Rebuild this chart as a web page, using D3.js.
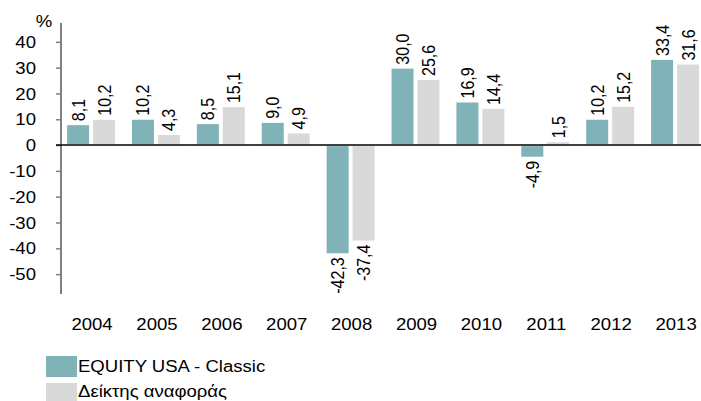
<!DOCTYPE html>
<html>
<head>
<meta charset="utf-8">
<script src="https://cdn.jsdelivr.net/npm/d3@7"></script>
<style>
  body { margin: 0; background: #fff; }
  text { font-family: "Liberation Sans", Arial, sans-serif; fill: #000; }
</style>
</head>
<body>
<div id="chart"></div>
<script>
// data
var years = ["2004", "2005", "2006", "2007", "2008", "2009", "2010", "2011", "2012", "2013"];
var fundValues = [8.1, 10.2, 8.5, 9.0, -42.3, 30.0, 16.9, -4.9, 10.2, 33.4];
var benchValues = [10.2, 4.3, 15.1, 4.9, -37.4, 25.6, 14.4, 1.5, 15.2, 31.6];
var seriesNames = ["EQUITY USA - Classic", "Δείκτης αναφοράς"];
var yTicks = [-50, -40, -30, -20, -10, 0, 10, 20, 30, 40];

var colors = ["#7fb3b8", "#d9d9d9"];
var stretch = 1.16; // the source picture is a bit wide

var svgWidth = 701, svgHeight = 401;
var axisX = 61;

// greek style numbers: comma decimal, plain hyphen minus
var locale = d3.formatLocale({
  decimal: ",",
  thousands: ".",
  grouping: [3],
  currency: ["", ""],
  minus: "-"
});
var fmt = locale.format(".1f");
var fmtTick = locale.format("d");

var svg = d3.select("#chart")
  .append("svg")
  .attr("width", svgWidth)
  .attr("height", svgHeight);

// scales
var x0 = d3.scaleBand()
  .domain(years)
  .range([58.6, 707.5]);

var x1 = d3.scaleBand()
  .domain([0, 1])
  .range([6.5, 58.4]);

var y = d3.scaleLinear()
  .domain([-57.7, 47.3])
  .range([294, 23]);

// rows for the bars
var rows = [];
years.forEach(function(yr, i) {
  rows.push({ year: yr, s: 0, v: fundValues[i] });
  rows.push({ year: yr, s: 1, v: benchValues[i] });
});

var barW = 24;

// bars
svg.append("g").selectAll("rect")
  .data(rows)
  .enter()
  .append("rect")
  .attr("x", d => x0(d.year) + x1(d.s) + x1.bandwidth() / 2 - barW / 2)
  .attr("y", d => Math.min(y(d.v), y(0)))
  .attr("width", barW)
  .attr("height", d => Math.abs(y(d.v) - y(0)))
  .attr("fill", d => colors[d.s])
  .attr("stroke", "#fff")
  .attr("stroke-width", 2);

// value labels (rotated)
svg.append("g").selectAll("text")
  .data(rows)
  .enter()
  .append("text")
  .attr("transform", function(d) {
    var cx = x0(d.year) + x1(d.s) + x1.bandwidth() / 2;
    var ty = d.v >= 0 ? y(d.v) - 3 : y(d.v) + 3;
    return `translate(${cx}, ${ty}) scale(${stretch}, 1) rotate(-90)`;
  })
  .attr("dy", "0.35em")
  .attr("text-anchor", d => d.v >= 0 ? "start" : "end")
  .attr("font-size", "16px")
  .text(d => fmt(d.v));

// y axis
var leftAxis = d3.axisLeft(y)
  .tickValues(yTicks)
  .tickSize(5)
  .tickPadding(20)
  .tickFormat(fmtTick);

var yAxis = svg.append("g")
  .attr("transform", `translate(${axisX}, 0)`)
  .call(leftAxis);

yAxis.select(".domain").remove();
yAxis.selectAll(".tick line")
  .attr("stroke", "#808080")
  .attr("stroke-width", 1.5);
yAxis.selectAll(".tick text")
  .attr("font-size", "16px")
  .attr("font-family", "Liberation Sans, Arial, sans-serif")
  .attr("fill", "#000")
  .attr("x", null)
  .attr("dy", null)
  .attr("transform", `translate(-25, 0) scale(${stretch}, 1)`)
  .attr("dominant-baseline", "central");

svg.append("line")
  .attr("x1", axisX).attr("x2", axisX)
  .attr("y1", y(47.3)).attr("y2", y(-57.7))
  .attr("stroke", "#808080")
  .attr("stroke-width", 2);

// zero line
svg.append("line")
  .attr("x1", axisX - 5).attr("x2", svgWidth)
  .attr("y1", y(0)).attr("y2", y(0))
  .attr("stroke", "#000")
  .attr("stroke-width", 1.5);

// unit
svg.append("text")
  .attr("transform", `translate(${axisX - 17}, 27) scale(${stretch}, 1)`)
  .attr("text-anchor", "middle")
  .attr("font-size", "16px")
  .text("%");

// year labels
svg.append("g").selectAll("text")
  .data(years)
  .enter()
  .append("text")
  .attr("transform", d => `translate(${x0(d) + x0.bandwidth() / 2 + 1}, 330) scale(${stretch}, 1)`)
  .attr("text-anchor", "middle")
  .attr("font-size", "16px")
  .text(d => d);

// legend
var legend = svg.append("g");

legend.selectAll("rect")
  .data(seriesNames)
  .enter()
  .append("rect")
  .attr("x", 46)
  .attr("y", (d, i) => 356 + i * 27)
  .attr("width", 31)
  .attr("height", 21)
  .attr("fill", (d, i) => colors[i]);

legend.selectAll("text")
  .data(seriesNames)
  .enter()
  .append("text")
  .attr("transform", (d, i) => `translate(78, ${372 + i * 24.5}) scale(${stretch}, 1)`)
  .attr("font-size", "16px")
  .text(d => d);
</script>
</body>
</html>
